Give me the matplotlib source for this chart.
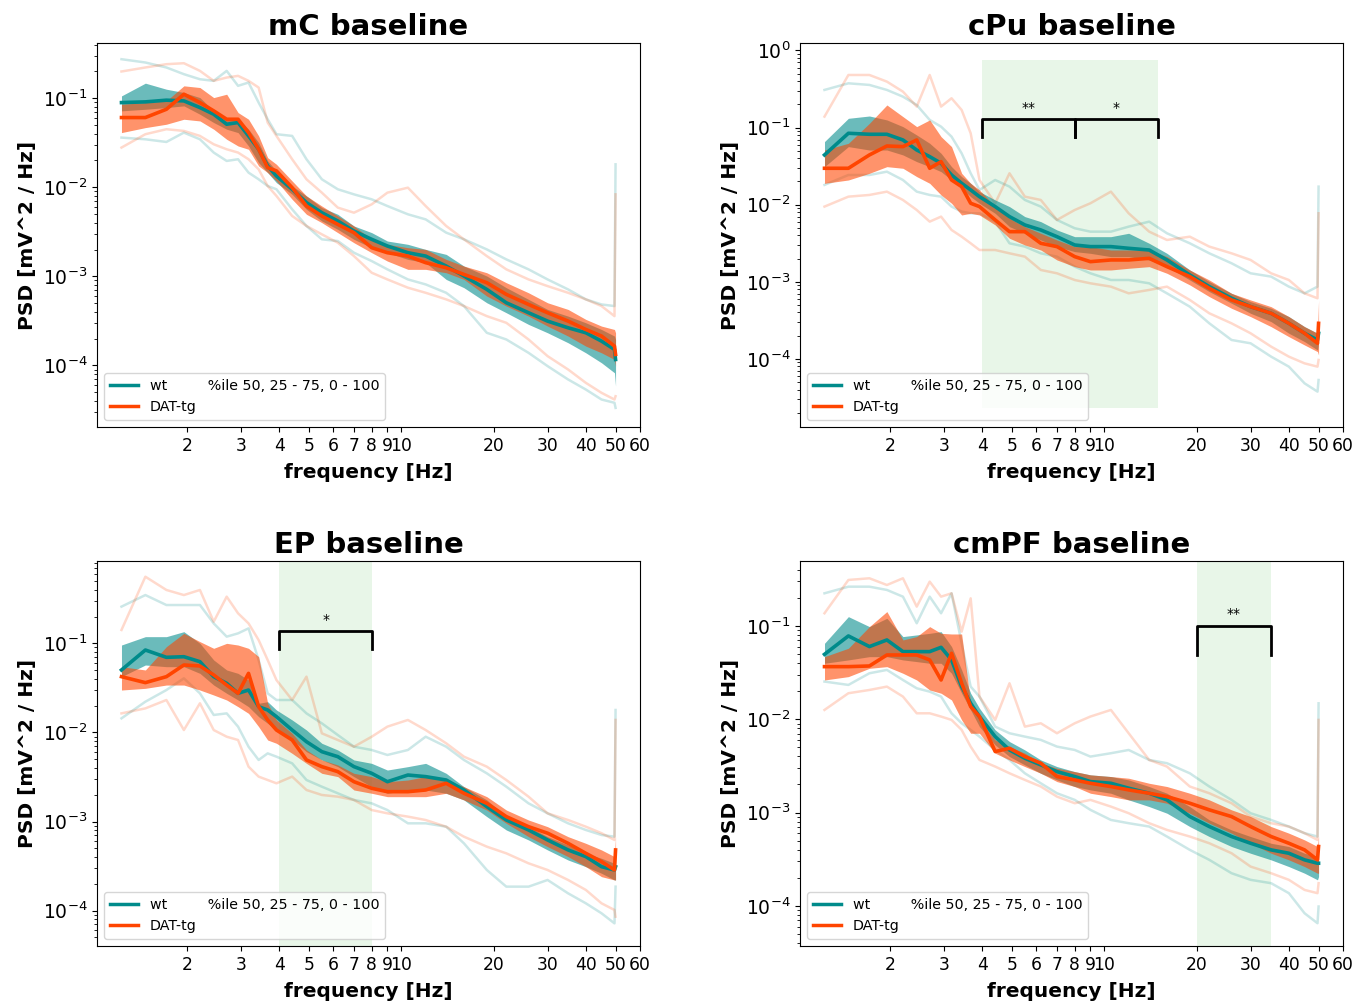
import numpy as np
import matplotlib
matplotlib.use("Agg")
import matplotlib.pyplot as plt
from matplotlib.lines import Line2D

# ---------------- data (PSD values stored as log10 [mV^2/Hz]) ----------------
freq = [1.22, 1.46, 1.71, 1.95, 2.2, 2.44, 2.69, 2.93, 3.17, 3.42, 3.66, 3.91,
        4.4, 4.9, 5.5, 6.2, 7.0, 8.0, 9.0, 10.5, 12, 14, 16, 19, 22, 26, 30,
        35, 40, 45, 49.6, 50]

# mC
mC_wt_med = [-1.049,-1.041,-1.022,-1.030,-1.105,-1.180,-1.292,-1.273,-1.423,-1.573,-1.760,-1.873,-2.022,-2.172,-2.285,-2.378,-2.491,-2.584,-2.659,-2.734,-2.772,-2.884,-2.996,-3.146,-3.296,-3.408,-3.502,-3.577,-3.633,-3.727,-3.820,-3.933]
mC_wt_q75 = [-0.974,-0.831,-0.899,-0.936,-0.993,-1.142,-1.236,-1.236,-1.348,-1.498,-1.704,-1.816,-1.985,-2.097,-2.228,-2.303,-2.434,-2.509,-2.603,-2.640,-2.697,-2.753,-2.884,-2.996,-3.127,-3.258,-3.371,-3.446,-3.521,-3.596,-3.670,-3.708]
mC_wt_q25 = [-1.142,-1.124,-1.105,-1.086,-1.180,-1.273,-1.348,-1.386,-1.536,-1.723,-1.835,-1.948,-2.079,-2.247,-2.378,-2.472,-2.584,-2.678,-2.734,-2.809,-2.846,-3.034,-3.127,-3.296,-3.408,-3.539,-3.633,-3.745,-3.858,-3.970,-4.082,-4.232]
mC_wt_max = [-0.562,-0.599,-0.655,-0.730,-0.787,-0.805,-0.693,-0.861,-0.824,-1.049,-1.236,-1.404,-1.423,-1.685,-1.910,-2.022,-2.079,-2.135,-2.210,-2.303,-2.360,-2.509,-2.584,-2.697,-2.809,-2.921,-3.034,-3.146,-3.258,-3.315,-3.333,-1.742]
mC_wt_min = [-1.442,-1.461,-1.491,-1.386,-1.461,-1.610,-1.704,-1.685,-1.835,-1.910,-1.985,-2.022,-2.247,-2.434,-2.584,-2.603,-2.734,-2.828,-2.921,-3.034,-3.090,-3.184,-3.333,-3.633,-3.708,-3.858,-4.007,-4.157,-4.270,-4.382,-4.419,-4.476]
mC_tg_med = [-1.217,-1.217,-1.124,-0.955,-1.049,-1.142,-1.236,-1.236,-1.386,-1.573,-1.779,-1.816,-2.004,-2.210,-2.322,-2.416,-2.509,-2.678,-2.734,-2.772,-2.846,-2.903,-2.978,-3.071,-3.202,-3.315,-3.408,-3.502,-3.596,-3.670,-3.783,-3.876]
mC_tg_q75 = [-1.067,-1.049,-1.030,-0.861,-0.880,-0.993,-0.955,-1.161,-1.236,-1.423,-1.667,-1.742,-1.929,-2.097,-2.210,-2.322,-2.434,-2.584,-2.640,-2.678,-2.697,-2.809,-2.884,-2.959,-3.071,-3.184,-3.296,-3.371,-3.483,-3.558,-3.596,-3.633]
mC_tg_q25 = [-1.386,-1.330,-1.292,-1.236,-1.255,-1.348,-1.461,-1.536,-1.573,-1.760,-1.835,-1.929,-2.135,-2.303,-2.397,-2.509,-2.622,-2.734,-2.828,-2.921,-2.921,-2.959,-3.034,-3.221,-3.333,-3.446,-3.558,-3.670,-3.783,-3.858,-3.933,-4.007]
mC_tg_max = [-0.700,-0.655,-0.618,-0.607,-0.693,-0.805,-0.768,-0.749,-0.805,-0.880,-1.273,-1.423,-1.685,-1.910,-2.060,-2.228,-2.285,-2.191,-2.060,-2.004,-2.210,-2.434,-2.584,-2.772,-2.921,-3.034,-3.109,-3.184,-3.258,-3.333,-3.446,-2.079]
mC_tg_min = [-1.554,-1.404,-1.348,-1.367,-1.423,-1.517,-1.573,-1.610,-1.685,-1.798,-1.985,-2.097,-2.322,-2.434,-2.528,-2.622,-2.772,-2.959,-3.034,-3.127,-3.184,-3.258,-3.333,-3.446,-3.521,-3.708,-3.895,-4.045,-4.195,-4.307,-4.382,-4.345]

# cPu
cPu_wt_med = [-1.355,-1.074,-1.087,-1.087,-1.161,-1.291,-1.377,-1.463,-1.615,-1.723,-1.809,-1.896,-2.025,-2.155,-2.263,-2.328,-2.415,-2.523,-2.544,-2.544,-2.566,-2.588,-2.717,-2.912,-3.063,-3.214,-3.323,-3.409,-3.539,-3.668,-3.755,-3.668]
cPu_wt_q75 = [-1.182,-0.880,-0.850,-0.901,-0.988,-1.096,-1.204,-1.334,-1.507,-1.636,-1.723,-1.831,-1.939,-2.025,-2.155,-2.220,-2.328,-2.415,-2.415,-2.415,-2.371,-2.501,-2.631,-2.847,-2.998,-3.150,-3.258,-3.344,-3.452,-3.582,-3.668,-3.582]
cPu_wt_q25 = [-1.507,-1.247,-1.291,-1.291,-1.355,-1.442,-1.507,-1.572,-1.680,-1.788,-1.896,-1.982,-2.112,-2.285,-2.371,-2.458,-2.544,-2.609,-2.631,-2.674,-2.674,-2.717,-2.804,-2.977,-3.128,-3.279,-3.409,-3.517,-3.668,-3.776,-3.885,-3.798]
cPu_wt_max = [-0.512,-0.426,-0.447,-0.512,-0.599,-0.707,-0.901,-0.988,-1.118,-1.334,-1.593,-1.809,-1.680,-1.766,-1.939,-2.025,-2.198,-2.306,-2.350,-2.350,-2.285,-2.220,-2.371,-2.501,-2.631,-2.760,-2.890,-2.933,-3.063,-3.150,-3.063,-1.766]
cPu_wt_min = [-1.744,-1.615,-1.615,-1.572,-1.680,-1.831,-1.874,-1.896,-2.025,-2.090,-2.112,-2.112,-2.220,-2.501,-2.544,-2.631,-2.674,-2.804,-2.890,-2.977,-2.977,-3.020,-3.150,-3.323,-3.539,-3.755,-3.798,-3.971,-4.101,-4.317,-4.425,-4.274]
cPu_tg_med = [-1.528,-1.528,-1.355,-1.239,-1.247,-1.161,-1.528,-1.442,-1.680,-1.766,-1.982,-2.025,-2.198,-2.350,-2.350,-2.501,-2.544,-2.674,-2.739,-2.717,-2.717,-2.696,-2.804,-2.933,-3.085,-3.236,-3.323,-3.409,-3.539,-3.668,-3.798,-3.539]
cPu_tg_q75 = [-1.291,-1.204,-0.945,-0.707,-0.858,-0.988,-0.901,-1.118,-1.247,-1.593,-1.723,-1.809,-2.025,-2.177,-2.285,-2.371,-2.458,-2.544,-2.544,-2.588,-2.588,-2.588,-2.674,-2.847,-2.977,-3.150,-3.236,-3.323,-3.452,-3.582,-3.668,-3.236]
cPu_tg_q25 = [-1.723,-1.680,-1.593,-1.507,-1.528,-1.636,-1.723,-1.874,-1.982,-2.134,-2.112,-2.134,-2.263,-2.436,-2.523,-2.588,-2.717,-2.804,-2.847,-2.847,-2.825,-2.804,-2.890,-3.041,-3.193,-3.344,-3.452,-3.582,-3.712,-3.820,-3.906,-3.949]
cPu_tg_max = [-0.858,-0.318,-0.318,-0.404,-0.534,-0.728,-0.318,-0.728,-0.620,-0.772,-1.074,-1.680,-1.982,-1.593,-1.896,-1.939,-2.198,-2.069,-1.982,-1.831,-2.112,-2.350,-2.458,-2.415,-2.544,-2.631,-2.717,-2.890,-2.977,-3.150,-3.214,-2.112]
cPu_tg_min = [-2.025,-1.896,-1.874,-1.831,-1.939,-2.069,-2.220,-2.155,-2.328,-2.415,-2.501,-2.588,-2.588,-2.631,-2.674,-2.847,-2.890,-2.977,-3.020,-3.063,-3.150,-3.106,-3.063,-3.236,-3.409,-3.539,-3.668,-3.841,-3.971,-4.058,-4.101,-4.014]

# EP
EP_wt_med = [-1.299,-1.075,-1.157,-1.150,-1.206,-1.374,-1.449,-1.561,-1.524,-1.711,-1.748,-1.823,-1.973,-2.104,-2.216,-2.272,-2.384,-2.459,-2.553,-2.478,-2.496,-2.534,-2.646,-2.833,-2.983,-3.095,-3.207,-3.319,-3.394,-3.507,-3.544,-3.507]
EP_wt_q75 = [-1.019,-0.925,-0.925,-0.869,-1.000,-1.187,-1.299,-1.337,-1.412,-1.673,-1.655,-1.748,-1.860,-1.973,-2.122,-2.197,-2.309,-2.347,-2.422,-2.384,-2.347,-2.459,-2.609,-2.758,-2.945,-3.058,-3.170,-3.263,-3.357,-3.413,-3.469,-3.282]
EP_wt_q25 = [-1.374,-1.243,-1.262,-1.262,-1.337,-1.468,-1.561,-1.636,-1.711,-1.823,-1.898,-1.973,-2.085,-2.216,-2.309,-2.384,-2.496,-2.609,-2.683,-2.646,-2.646,-2.683,-2.758,-2.945,-3.095,-3.207,-3.319,-3.432,-3.507,-3.581,-3.656,-3.656]
EP_wt_max = [-0.588,-0.458,-0.570,-0.570,-0.570,-0.776,-0.925,-0.888,-0.832,-1.187,-1.561,-1.636,-1.636,-1.786,-1.898,-2.029,-2.160,-2.197,-2.253,-2.197,-2.048,-2.160,-2.309,-2.459,-2.609,-2.796,-2.908,-3.020,-3.095,-3.151,-3.170,-1.748]
EP_wt_min = [-1.842,-1.655,-1.524,-1.393,-1.561,-1.804,-1.786,-1.935,-2.160,-2.309,-2.235,-2.272,-2.347,-2.534,-2.609,-2.683,-2.758,-2.796,-2.871,-3.020,-3.020,-3.058,-3.245,-3.544,-3.731,-3.731,-3.656,-3.806,-3.918,-4.030,-4.143,-3.731]
EP_tg_med = [-1.374,-1.441,-1.374,-1.243,-1.254,-1.355,-1.468,-1.561,-1.337,-1.711,-1.860,-1.973,-2.085,-2.309,-2.384,-2.440,-2.553,-2.627,-2.665,-2.665,-2.646,-2.571,-2.683,-2.796,-2.945,-3.058,-3.131,-3.245,-3.357,-3.450,-3.544,-3.319]
EP_tg_q75 = [-1.262,-1.299,-1.037,-0.888,-0.981,-1.056,-1.000,-1.019,-1.056,-1.150,-1.673,-1.860,-2.010,-2.197,-2.309,-2.365,-2.459,-2.496,-2.553,-2.534,-2.496,-2.534,-2.609,-2.721,-2.871,-2.983,-3.058,-3.170,-3.245,-3.319,-3.394,-3.170]
EP_tg_q25 = [-1.524,-1.505,-1.468,-1.468,-1.524,-1.580,-1.636,-1.711,-1.786,-1.935,-2.085,-2.122,-2.235,-2.347,-2.459,-2.496,-2.646,-2.683,-2.721,-2.721,-2.721,-2.683,-2.758,-2.871,-3.020,-3.170,-3.282,-3.394,-3.507,-3.619,-3.656,-3.656]
EP_tg_max = [-0.850,-0.252,-0.401,-0.458,-0.401,-0.757,-0.476,-0.663,-0.776,-0.963,-1.187,-1.412,-1.636,-1.374,-2.010,-2.085,-2.160,-2.048,-1.935,-1.860,-1.973,-2.122,-2.272,-2.384,-2.534,-2.721,-2.908,-2.983,-3.058,-3.131,-3.207,-1.860]
EP_tg_min = [-1.786,-1.730,-1.636,-1.973,-1.673,-1.973,-2.048,-2.085,-2.384,-2.496,-2.534,-2.571,-2.496,-2.646,-2.702,-2.721,-2.758,-2.871,-2.908,-2.945,-2.983,-3.058,-3.170,-3.282,-3.357,-3.469,-3.544,-3.656,-3.768,-3.918,-3.993,-4.068]

# cmPF
cmPF_wt_med = [-1.304,-1.107,-1.221,-1.150,-1.275,-1.275,-1.275,-1.229,-1.364,-1.650,-1.829,-1.971,-2.186,-2.329,-2.418,-2.489,-2.561,-2.614,-2.668,-2.686,-2.739,-2.793,-2.864,-3.043,-3.150,-3.257,-3.329,-3.400,-3.436,-3.507,-3.543,-3.543]
cmPF_wt_q75 = [-1.186,-0.900,-1.007,-0.918,-1.114,-1.096,-1.079,-1.061,-1.221,-1.471,-1.721,-1.882,-2.114,-2.239,-2.329,-2.436,-2.507,-2.561,-2.596,-2.614,-2.650,-2.721,-2.793,-2.936,-3.079,-3.186,-3.257,-3.329,-3.364,-3.436,-3.471,-3.436]
cmPF_wt_q25 = [-1.400,-1.364,-1.329,-1.329,-1.364,-1.382,-1.400,-1.400,-1.507,-1.721,-1.900,-2.079,-2.275,-2.400,-2.489,-2.579,-2.650,-2.721,-2.757,-2.793,-2.864,-2.936,-3.007,-3.150,-3.257,-3.364,-3.436,-3.507,-3.579,-3.650,-3.721,-3.686]
cmPF_wt_max = [-0.650,-0.579,-0.579,-0.614,-0.686,-0.971,-0.686,-0.864,-0.650,-1.186,-1.650,-1.757,-2.079,-2.150,-2.186,-2.221,-2.293,-2.329,-2.400,-2.364,-2.329,-2.436,-2.471,-2.579,-2.721,-2.864,-3.007,-3.079,-3.150,-3.221,-3.257,-1.829]
cmPF_wt_min = [-1.596,-1.632,-1.507,-1.471,-1.579,-1.668,-1.704,-1.757,-1.936,-2.043,-2.114,-2.186,-2.329,-2.436,-2.579,-2.686,-2.793,-2.864,-2.971,-3.079,-3.114,-3.150,-3.257,-3.400,-3.507,-3.650,-3.721,-3.757,-3.864,-4.079,-4.186,-4.007]
cmPF_tg_med = [-1.436,-1.436,-1.429,-1.311,-1.311,-1.311,-1.364,-1.579,-1.293,-1.614,-1.864,-1.971,-2.346,-2.311,-2.400,-2.471,-2.614,-2.650,-2.686,-2.721,-2.757,-2.793,-2.829,-2.900,-2.971,-3.043,-3.150,-3.257,-3.329,-3.400,-3.507,-3.364]
cmPF_tg_q75 = [-1.329,-1.239,-1.007,-0.846,-1.150,-1.114,-1.007,-1.079,-1.086,-1.086,-1.829,-2.007,-2.221,-2.293,-2.364,-2.471,-2.525,-2.561,-2.596,-2.614,-2.632,-2.686,-2.721,-2.793,-2.864,-2.971,-3.043,-3.150,-3.221,-3.293,-3.364,-3.257]
cmPF_tg_q25 = [-1.579,-1.543,-1.454,-1.436,-1.507,-1.579,-1.686,-1.721,-1.793,-2.007,-2.150,-2.150,-2.364,-2.436,-2.507,-2.579,-2.668,-2.721,-2.793,-2.829,-2.864,-2.864,-2.900,-3.007,-3.114,-3.221,-3.329,-3.436,-3.507,-3.579,-3.650,-3.650]
cmPF_tg_max = [-0.864,-0.507,-0.489,-0.561,-0.489,-0.793,-0.525,-0.686,-0.650,-1.061,-0.704,-1.757,-2.007,-1.614,-2.079,-2.043,-2.150,-2.043,-1.971,-1.900,-2.150,-2.436,-2.507,-2.721,-2.793,-2.900,-3.043,-3.114,-3.150,-3.221,-3.293,-2.007]
cmPF_tg_min = [-1.900,-1.721,-1.686,-1.650,-1.757,-1.936,-1.936,-1.971,-2.007,-2.114,-2.293,-2.436,-2.507,-2.579,-2.650,-2.721,-2.829,-2.900,-2.864,-2.936,-3.007,-3.114,-3.186,-3.257,-3.329,-3.436,-3.579,-3.650,-3.721,-3.829,-3.864,-3.757]

titles = ["mC baseline", "cPu baseline", "EP baseline", "cmPF baseline"]
group_labels = ["wt", "DAT-tg"]
legend_note = "%ile 50, 25 - 75, 0 - 100"
xtick_values = [2, 3, 4, 5, 6, 7, 8, 9, 10, 20, 30, 40, 50, 60]
xtick_labels = ["2", "3", "4", "5", "6", "7", "8", "9", "10", "20", "30", "40", "50", "60"]
xlim = (1.015, 60.1)
# y-limits (log10)
ylims_log = {"mC": (-4.69, -0.38), "cPu": (-4.883, 0.097),
             "EP": (-4.397, -0.076), "cmPF": (-4.43, -0.304)}
# significant bands: (f_lo, f_hi), vertical extent (log10)
bands = {"cPu": [(4, 15)], "EP": [(4, 8)], "cmPF": [(20, 35)], "mC": []}
band_y_log = {"cPu": (-4.641, -0.123), "EP": (-4.397, -0.076), "cmPF": (-4.43, -0.304)}
# significance brackets: (f_lo, f_hi, stars), bracket top / leg bottom (log10)
brackets = {"cPu": [(4, 8, "**"), (8, 15, "*")], "EP": [(4, 8, "*")],
            "cmPF": [(20, 35, "**")], "mC": []}
bracket_y_log = {"cPu": (-0.888, -1.118), "EP": (-0.862, -1.067), "cmPF": (-0.996, -1.311)}

data = {
    "mC": {"wt": (mC_wt_med, mC_wt_q25, mC_wt_q75, mC_wt_min, mC_wt_max),
           "tg": (mC_tg_med, mC_tg_q25, mC_tg_q75, mC_tg_min, mC_tg_max)},
    "cPu": {"wt": (cPu_wt_med, cPu_wt_q25, cPu_wt_q75, cPu_wt_min, cPu_wt_max),
            "tg": (cPu_tg_med, cPu_tg_q25, cPu_tg_q75, cPu_tg_min, cPu_tg_max)},
    "EP": {"wt": (EP_wt_med, EP_wt_q25, EP_wt_q75, EP_wt_min, EP_wt_max),
           "tg": (EP_tg_med, EP_tg_q25, EP_tg_q75, EP_tg_min, EP_tg_max)},
    "cmPF": {"wt": (cmPF_wt_med, cmPF_wt_q25, cmPF_wt_q75, cmPF_wt_min, cmPF_wt_max),
             "tg": (cmPF_tg_med, cmPF_tg_q25, cmPF_tg_q75, cmPF_tg_min, cmPF_tg_max)},
}

# ---------------- style ----------------
TEAL = "#008b8b"
ORANGE = "#ff4500"
GREEN = "#e8f6e8"
colors = {"wt": TEAL, "tg": ORANGE}

fig = plt.figure(figsize=(13.72, 10.02), dpi=100)
rects = {"mC": [0.0707, 0.5739, 0.3958, 0.3832],
         "cPu": [0.5831, 0.5739, 0.3958, 0.3832],
         "EP": [0.0707, 0.0559, 0.3958, 0.3842],
         "cmPF": [0.5831, 0.0559, 0.3958, 0.3842]}

f = np.array(freq)
for key, title in zip(["mC", "cPu", "EP", "cmPF"], titles):
    ax = fig.add_axes(rects[key])
    ax.set_xscale("log")
    ax.set_yscale("log")

    for (lo, hi) in bands[key]:
        ylo, yhi = band_y_log[key]
        ax.fill_between([lo, hi], 10 ** ylo, 10 ** yhi, color=GREEN, lw=0, zorder=0)

    for g in ["wt", "tg"]:
        med, q25, q75, mn, mx = [10 ** np.array(v) for v in data[key][g]]
        c = colors[g]
        ax.fill_between(f, q25, q75, color=c, alpha=0.58, lw=0, zorder=2)
        ax.plot(f, mn, color=c, alpha=0.2, lw=1.8, zorder=1)
        ax.plot(f, mx, color=c, alpha=0.2, lw=1.8, zorder=1)
        ax.plot(f, med, color=c, lw=2.6, zorder=3)

    for (lo, hi, stars) in brackets[key]:
        ytop, ybot = bracket_y_log[key]
        ax.plot([lo, lo, hi, hi], [10 ** ybot, 10 ** ytop, 10 ** ytop, 10 ** ybot],
                color="black", lw=2, zorder=5)
        ax.annotate(stars, xy=(np.sqrt(lo * hi), 10 ** ytop), xytext=(0, 3),
                    textcoords="offset points", ha="center", va="bottom",
                    fontsize=10, zorder=5)

    ax.set_xlim(*xlim)
    ax.set_ylim(10 ** ylims_log[key][0], 10 ** ylims_log[key][1])
    ax.set_xticks(xtick_values)
    ax.set_xticklabels(xtick_labels)
    ax.xaxis.set_minor_locator(matplotlib.ticker.NullLocator())
    ax.tick_params(axis="x", which="major", labelsize=12.3)
    ax.tick_params(axis="y", which="major", labelsize=13.5)
    ax.set_title(title, fontsize=21, fontweight="bold")
    ax.set_xlabel("frequency [Hz]", fontsize=14.5, fontweight="bold", labelpad=6)
    ax.set_ylabel("PSD [mV^2 / Hz]", fontsize=14.5, fontweight="bold")

    handles = [Line2D([0], [0], color=TEAL, lw=2.5), Line2D([0], [0], color=ORANGE, lw=2.5)]
    labels = [group_labels[0] + " " * 9 + legend_note, group_labels[1]]
    ax.legend(handles, labels, loc="lower left", fontsize=10.3)

fig.savefig("out.png", dpi=100)
